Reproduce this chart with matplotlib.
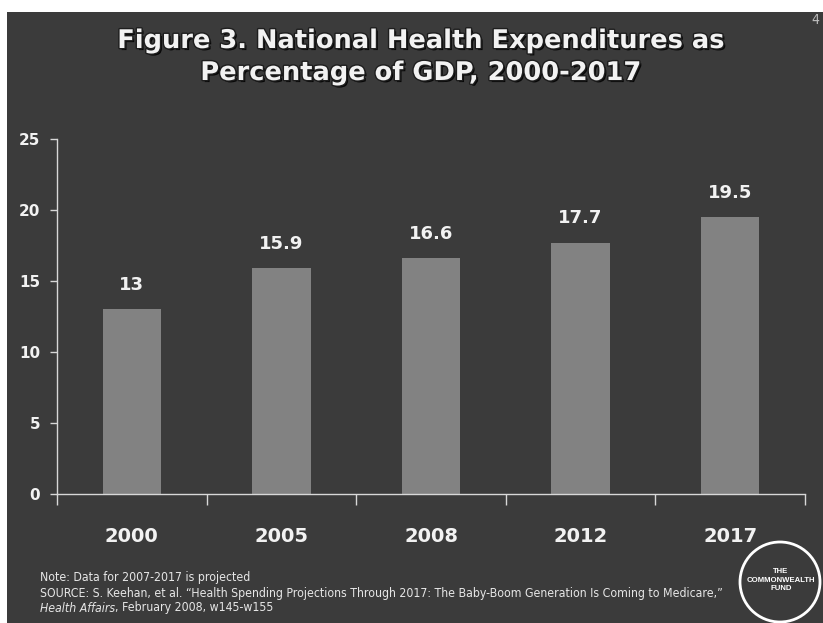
import matplotlib.pyplot as plt
import matplotlib.patheffects as pe
from matplotlib.patches import Rectangle, Ellipse

years = ['2000', '2005', '2008', '2012', '2017']
pct_gdp = [13.0, 15.9, 16.6, 17.7, 19.5]
value_labels = ['13', '15.9', '16.6', '17.7', '19.5']
y_ticks = [0, 5, 10, 15, 20, 25]

slide_bg = '#3b3b3b'
bar_color = '#828282'
fg = '#f2f2f2'
heavy = dict(family='DejaVu Sans', fontweight='bold')
narrow = dict(family='DejaVu Sans', stretch='condensed')

fig = plt.figure(figsize=(8.23, 6.23), dpi=100)
fig.patch.set_facecolor('white')

# dark slide sitting inside a thin white scan margin
fig.patches.append(Rectangle((7 / 823, 0), 1, (623 - 12) / 623,
                             transform=fig.transFigure, facecolor=slide_bg,
                             edgecolor='none', zorder=-5))

ax = fig.add_axes([57 / 823, (623 - 494) / 623, (805 - 57) / 823, (494 - 139) / 623])
ax.set_facecolor('none')

x = range(len(years))
ax.bar(x, pct_gdp, width=0.39, color=bar_color, zorder=2)

for i, (v, lab) in enumerate(zip(pct_gdp, value_labels)):
    ax.text(i, v + 1.35, lab, ha='center', va='baseline', color=fg,
            fontsize=13, **heavy)

ax.set_xlim(-0.5, len(years) - 0.5)
ax.set_ylim(0, 25)
ax.set_yticks(y_ticks)
ax.set_yticklabels([str(t) for t in y_ticks], color=fg, fontsize=11, **heavy)

# category boundary ticks along the x axis, labels placed separately
ax.set_xticks([i - 0.5 for i in range(len(years) + 1)])
ax.set_xticklabels([])
ax.tick_params(axis='x', length=8, width=1, color='#d8d8d8', direction='out')
ax.tick_params(axis='y', length=5, width=1, color='#d8d8d8', direction='out', pad=7)
for i, yr in enumerate(years):
    ax.text(i, -3.4, yr, ha='center', va='baseline', color=fg, fontsize=14, **heavy)

for side in ['top', 'right']:
    ax.spines[side].set_visible(False)
for side in ['left', 'bottom']:
    ax.spines[side].set_color('#d8d8d8')
    ax.spines[side].set_linewidth(1)

title_fx = [pe.withSimplePatchShadow(offset=(1.5, -1.5), shadow_rgbFace='black', alpha=0.85),
            pe.withStroke(linewidth=2, foreground='#1e1e1e')]
fig.text(0.512, 1 - 48 / 623, 'Figure 3. National Health Expenditures as',
         ha='center', va='baseline', color=fg, fontsize=18.5,
         path_effects=title_fx, **heavy)
fig.text(0.512, 1 - 80 / 623, 'Percentage of GDP, 2000-2017',
         ha='center', va='baseline', color=fg, fontsize=18.5,
         path_effects=title_fx, **heavy)

fig.text(815 / 823, 1 - 20 / 623, '4', ha='center', va='center',
         color='#bbbbbb', fontsize=10, **narrow)

note_style = dict(color='#e6e6e6', fontsize=8.8, va='center', ha='left', **narrow)
fig.text(40 / 823, 1 - 578 / 623, 'Note: Data for 2007-2017 is projected', **note_style)
fig.text(40 / 823, 1 - 593 / 623,
         'SOURCE: S. Keehan, et al. \u201cHealth Spending Projections Through 2017: '
         'The Baby-Boom Generation Is Coming to Medicare,\u201d', **note_style)
journal = fig.text(40 / 823, 1 - 608 / 623, 'Health Affairs', style='italic', **note_style)
fig.add_artist(plt.Annotation(', February 2008, w145-w155', xy=(1, 0.5),
                              xycoords=journal, **note_style))

# circular fund logo in the lower right corner
fig.patches.append(Ellipse((780 / 823, 1 - 582 / 623), 80 / 823, 80 / 623,
                           transform=fig.transFigure, facecolor='none',
                           edgecolor='white', linewidth=2, zorder=3))
fig.text(781 / 823, 1 - 580 / 623, 'THE\nCOMMONWEALTH\nFUND', ha='center',
         va='center', color='white', fontsize=5.6, fontweight='bold',
         family='Liberation Sans', linespacing=1.25)

fig.savefig('out.png', dpi=100, facecolor=fig.get_facecolor())
